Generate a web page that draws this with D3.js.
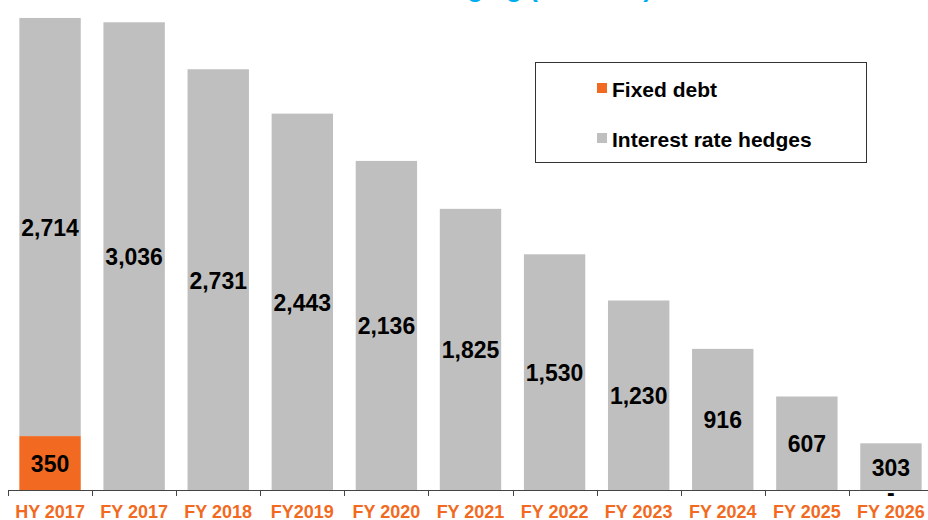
<!DOCTYPE html>
<html>
<head>
<meta charset="utf-8">
<script src="https://cdn.jsdelivr.net/npm/d3@7"></script>
<style>
  body { margin: 0; background: #fff; }
  svg { display: block; font-family: "Liberation Sans", Arial, sans-serif; }
</style>
</head>
<body>
<div id="chart"></div>
<script>
const categories = ['HY 2017', 'FY 2017', 'FY 2018', 'FY2019', 'FY 2020', 'FY 2021', 'FY 2022', 'FY 2023', 'FY 2024', 'FY 2025', 'FY 2026'];
const fixedDebt = [350, null, null, null, null, null, null, null, null, null, 0];
const hedges = [2714, 3036, 2731, 2443, 2136, 1825, 1530, 1230, 916, 607, 303];
const seriesNames = ['Fixed debt', 'Interest rate hedges'];
const titleText = 'Fixed debt and interest rate hedging (€ million)';

const width = 928;
const height = 520;
const orange = '#f26a21';
const grey = '#bfbfbf';

const svg = d3.select('#chart')
    .append('svg')
    .attr('width', width)
    .attr('height', height);

const x = d3.scaleBand()
    .domain(categories)
    .range([8, 933])
    .paddingInner(0.27)
    .paddingOuter(0.135);

const y = d3.scaleLinear()
    .domain([0, 3200])
    .range([490, -3]);

// title, mostly cut off at the top
svg.append('text')
    .attr('x', 652)
    .attr('y', -3)
    .attr('text-anchor', 'end')
    .style('font-size', '26px')
    .style('font-weight', 'bold')
    .style('fill', '#00aeef')
    .text(titleText);

const rows = categories.map((c, i) => ({
    cat: c,
    fixed: fixedDebt[i],
    hedge: hedges[i],
    base: fixedDebt[i] || 0
}));

// fixed debt segments
svg.append('g')
    .selectAll('rect')
    .data(rows.filter(d => d.fixed))
    .join('rect')
    .attr('x', d => x(d.cat))
    .attr('width', x.bandwidth())
    .attr('y', d => y(d.fixed))
    .attr('height', d => y(0) - y(d.fixed))
    .attr('fill', orange);

// hedge segments
svg.append('g')
    .selectAll('rect')
    .data(rows)
    .join('rect')
    .attr('x', d => x(d.cat))
    .attr('width', x.bandwidth())
    .attr('y', d => y(d.base + d.hedge))
    .attr('height', d => y(d.base) - y(d.base + d.hedge))
    .attr('fill', grey);

const fmt = d3.format(',');
const labelStyle = sel => sel
    .attr('text-anchor', 'middle')
    .attr('dominant-baseline', 'central')
    .style('font-size', '23px')
    .style('font-weight', 'bold')
    .style('fill', '#000');

svg.append('g')
    .selectAll('text')
    .data(rows)
    .join('text')
    .attr('x', d => x(d.cat) + x.bandwidth() / 2)
    .attr('y', d => y(d.base + d.hedge / 2) + 1)
    .text(d => fmt(d.hedge))
    .call(labelStyle);

svg.append('g')
    .selectAll('text')
    .data(rows.filter(d => d.fixed !== null))
    .join('text')
    .attr('x', d => x(d.cat) + x.bandwidth() / 2)
    .attr('y', d => d.fixed ? y(d.fixed / 2) + 1 : y(0) + 3)
    .text(d => d.fixed ? fmt(d.fixed) : '-')
    .call(labelStyle);

// x axis
const axis = svg.append('g');
axis.append('line')
    .attr('x1', 8).attr('x2', width)
    .attr('y1', y(0) + 0.5).attr('y2', y(0) + 0.5)
    .attr('stroke', '#444');
axis.selectAll('line.tick')
    .data(categories)
    .join('line')
    .attr('class', 'tick')
    .attr('x1', d => Math.round(x(d) - x.step() * x.paddingInner() / 2) + 0.5)
    .attr('x2', d => Math.round(x(d) - x.step() * x.paddingInner() / 2) + 0.5)
    .attr('y1', y(0))
    .attr('y2', y(0) + 6)
    .attr('stroke', '#444');
axis.selectAll('text')
    .data(categories)
    .join('text')
    .attr('x', d => x(d) + x.bandwidth() / 2)
    .attr('y', 518)
    .attr('text-anchor', 'middle')
    .style('font-size', '18px')
    .style('font-weight', 'bold')
    .style('fill', orange)
    .text(d => d);

// legend
const legend = svg.append('g');
legend.append('rect')
    .attr('x', 535.5).attr('y', 62.5)
    .attr('width', 331).attr('height', 100)
    .attr('fill', '#fff')
    .attr('stroke', '#333');
const legItems = legend.selectAll('g')
    .data(seriesNames)
    .join('g')
    .attr('transform', (d, i) => `translate(597, ${88 + i * 50})`);
legItems.append('rect')
    .attr('x', 0).attr('y', -5)
    .attr('width', 10).attr('height', 10)
    .attr('fill', (d, i) => i === 0 ? orange : grey);
legItems.append('text')
    .attr('x', 15)
    .attr('y', 1)
    .attr('dominant-baseline', 'central')
    .style('font-size', '21px')
    .style('font-weight', 'bold')
    .text(d => d);
</script>
</body>
</html>
